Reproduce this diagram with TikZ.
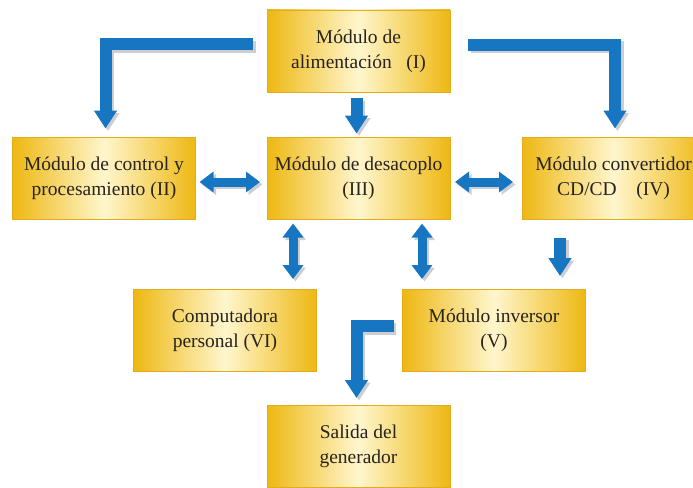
\documentclass[tikz,border=0pt]{standalone}
\usepackage{fontspec}
\setmainfont{Liberation Serif}
\newfontfamily\boxfont{Liberation Serif}
\usetikzlibrary{calc,arrows.meta}
\definecolor{gold}{RGB}{238,184,18}
\definecolor{lightgold}{RGB}{255,246,205}
\definecolor{goldedge}{RGB}{226,172,30}
\definecolor{arrowblue}{RGB}{22,118,194}
\definecolor{shadowgray}{RGB}{205,205,210}
\definecolor{textgray}{RGB}{40,35,30}
\newcommand\blockarr[2]{%
  \draw[#1,draw=shadowgray,transform canvas={xshift=2.5pt,yshift=-2.5pt}] #2;
  \draw[#1,draw=arrowblue] #2;}
\begin{document}
\begin{tikzpicture}[x=1pt,y=-1pt,
  box/.style={rectangle, minimum width=183pt, minimum height=82pt, inner sep=0pt, outer sep=0pt,
    left color=gold, right color=gold, middle color=lightgold, draw=goldedge, line width=0.6pt,
    align=center, text=textgray, font=\boxfont\fontsize{19.5}{25}\selectfont},
  onearr/.style={line width=12pt, line join=miter, -{Triangle[width=22pt,length=18pt]}},
  twoarr/.style={line width=9pt, {Triangle[width=20pt,length=14pt]}-{Triangle[width=20pt,length=14pt]}}]
\clip (0,0) rectangle (693,487);
\fill[white] (0,0) rectangle (693,487);
\node[box] (I) at (358.5,51) {Módulo de\\alimentación\ \ \ (I)};
\node[box] (II) at (104,178.5) {Módulo de control y\\procesamiento (II)};
\node[box] (III) at (358.5,178.5) {Módulo de desacoplo\\(III)};
\node[box] (IV) at (613.5,178.5) {Módulo convertidor\\CD/CD\ \ \ \ (IV)};
\node[box] (VI) at (225,330) {Computadora\\personal (VI)};
\node[box] (V) at (494,330) {Módulo inversor\\(V)};
\node[box] (S) at (358.5,446) {Salida del\\generador};
\coordinate (c1) at (293,0);
\coordinate (c2) at (422,0);
\coordinate (c3) at (560,0);
\blockarr{onearr}{($(I.west)+(-14,-6.5)$) -| ($(II.north)+(1.5,-9)$)}
\blockarr{onearr}{($(I.east)+(18,-6)$) -| ($(IV.north)+(1.5,-9)$)}
\blockarr{onearr}{($(I.south)+(-2,6)$) -- ($(III.north)+(-2,-4)$)}
\blockarr{onearr}{($(c3|-IV.south)+(0,18)$) -- ($(c3|-V.north)+(0,-13)$)}
\blockarr{onearr}{($(V.west)+(-9,-4)$) -| ($(S.north)+(-2,-7)$)}
\blockarr{twoarr}{($(II.east)+(4,3.5)$) -- ($(III.west)+(-7,3.5)$)}
\blockarr{twoarr}{($(III.east)+(5,3.5)$) -- ($(IV.west)+(-9,3.5)$)}
\blockarr{twoarr}{($(c1|-III.south)+(0,4)$) -- ($(c1|-VI.north)+(0,-10)$)}
\blockarr{twoarr}{($(c2|-III.south)+(0,4)$) -- ($(c2|-V.north)+(0,-10)$)}
\end{tikzpicture}
\end{document}
